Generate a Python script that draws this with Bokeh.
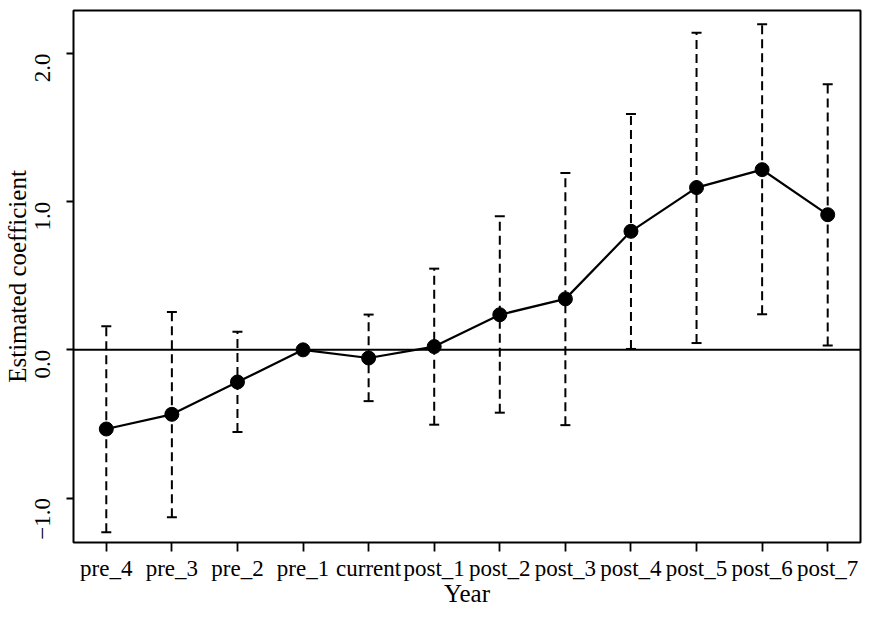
import math
from bokeh.plotting import figure
from bokeh.models import (ColumnDataSource, FactorRange, Range1d, FixedTicker,
                          Span, Whisker, TeeHead)
from bokeh.embed import file_html
from bokeh.resources import INLINE

categories = ["pre_4", "pre_3", "pre_2", "pre_1", "current", "post_1",
              "post_2", "post_3", "post_4", "post_5", "post_6", "post_7"]
coef = [-0.534, -0.435, -0.217, 0.0, -0.055, 0.022, 0.237, 0.344,
        0.800, 1.095, 1.216, 0.912]
lower = [-1.23, -1.13, -0.555, float("nan"), -0.346, -0.505, -0.424, -0.508,
         0.006, 0.046, 0.240, 0.030]
upper = [0.160, 0.255, 0.122, float("nan"), 0.238, 0.548, 0.902, 1.194,
         1.592, 2.140, 2.198, 1.792]
y_ticks = [-1.0, 0.0, 1.0, 2.0]
y_labels = {-1.0: "\u22121.0", 0.0: "0.0", 1.0: "1.0", 2.0: "2.0"}

FONT = "Liberation Serif"

p = figure(width=862, height=609, x_range=FactorRange(factors=categories),
           y_range=Range1d(-1.30, 2.29), output_backend="svg",
           toolbar_location=None, min_border_left=73, min_border_right=2,
           min_border_top=10, min_border_bottom=60)

p.background_fill_color = "white"
p.border_fill_color = "white"
p.outline_line_color = "black"
p.outline_line_width = 2
p.xgrid.visible = False
p.ygrid.visible = False
p.x_range.range_padding = 0

# zero line
p.add_layout(Span(location=0, dimension="width", line_color="black", line_width=2))

# error bars (skip reference category without CI)
idx = [i for i in range(len(categories)) if not math.isnan(lower[i])]
wsrc = ColumnDataSource(data=dict(
    x=[categories[i] for i in idx],
    lower=[lower[i] for i in idx],
    upper=[upper[i] for i in idx],
))
w = Whisker(base="x", lower="lower", upper="upper", source=wsrc,
            line_color="black", line_width=2, line_dash="9 5",
            upper_head=TeeHead(size=10, line_width=2, line_color="black"),
            lower_head=TeeHead(size=10, line_width=2, line_color="black"))
p.add_layout(w)

src = ColumnDataSource(data=dict(x=categories, y=coef))
p.line("x", "y", source=src, line_color="black", line_width=2.2)
p.scatter("x", "y", source=src, size=14, fill_color="black", line_color="black")

# axes
p.yaxis.ticker = FixedTicker(ticks=y_ticks)
p.yaxis.major_label_overrides = y_labels
p.yaxis.major_label_orientation = math.pi / 2
p.yaxis.axis_label = "Estimated coefficient"
p.xaxis.axis_label = "Year"

for ax in (p.xaxis[0], p.yaxis[0]):
    ax.axis_line_color = None
    ax.major_tick_line_color = "black"
    ax.major_tick_line_width = 1.8
    ax.minor_tick_line_color = None
    ax.major_tick_in = 0
    ax.major_label_text_font = FONT
    ax.major_label_text_font_size = "23px"
    ax.major_label_text_color = "black"
    ax.axis_label_text_font = FONT
    ax.axis_label_text_font_size = "25px"
    ax.axis_label_text_font_style = "normal"
    ax.axis_label_text_color = "black"

p.yaxis.major_tick_out = 7
p.yaxis.major_label_standoff = 24
p.yaxis.axis_label_standoff = -6
p.xaxis.major_tick_out = 9
p.xaxis.major_label_standoff = 4
p.xaxis.axis_label_standoff = -4

open("out.html", "w").write(file_html(p, INLINE))
